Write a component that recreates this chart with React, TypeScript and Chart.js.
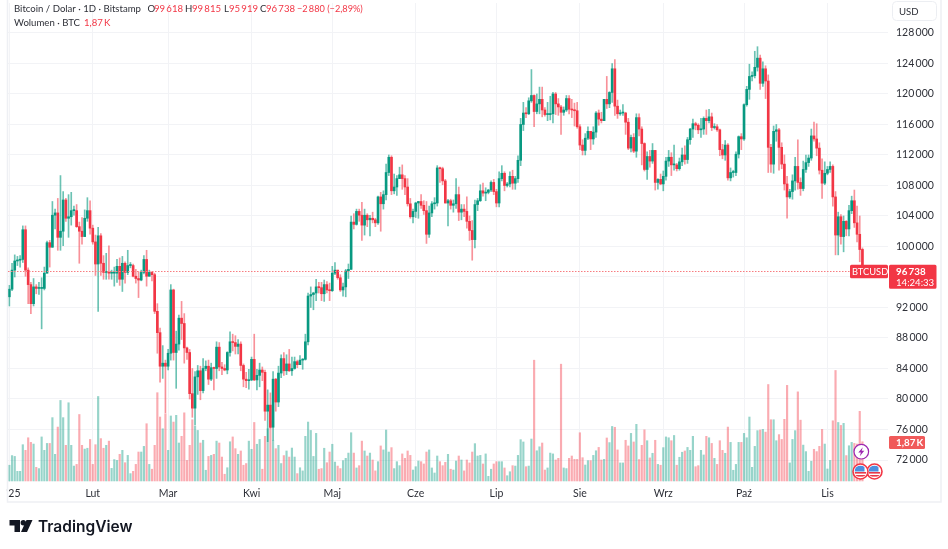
import { useEffect, useRef } from 'react';
import { Chart, registerables } from 'chart.js';

Chart.register(...registerables);

// one slot per day, 2025-01-01 onwards, last nine are empty space right of the last candle
const days = Array.from({ length: 327 }, (_, i) => String(i));
const monthStarts = [0, 31, 59, 90, 120, 151, 181, 212, 243, 273, 304];
const monthNames = ["   '25", 'Lut', 'Mar', 'Kwi', 'Maj', 'Cze', 'Lip', 'Sie', 'Wrz', 'Paź', 'Lis'];
const priceTicks = [128, 124, 120, 116, 112, 108, 104, 100, 96, 92, 88, 84, 80, 76, 72];

// prices in thousands of USD, one line per month
const opens = [
    93.4,94.4,96.9,98.1,98.2,98.3,102.2,96.9,95.0,92.5,94.7,94.5,94.5,94.5,96.5,100.5,99.9,104.1,104.4,101.2,102.0,106.1,103.7,103.9,104.7,104.7,102.6,102.0,101.3,103.7,104.7,
    102.4,100.6,97.7,101.4,97.8,96.6,96.6,96.5,96.5,96.5,97.4,95.7,97.8,96.6,97.5,97.5,96.1,95.8,95.6,96.6,98.3,96.1,96.6,96.3,91.5,88.7,84.3,84.7,
    84.3,86.0,94.3,86.1,87.2,90.6,89.9,86.7,86.1,80.7,78.8,82.9,83.7,81.1,84.0,84.3,82.6,84.1,84.0,86.8,84.2,84.0,83.8,86.1,87.5,87.4,86.9,87.2,84.4,82.6,82.4,
    82.5,85.2,82.5,83.1,83.8,83.5,78.4,79.2,76.3,82.6,79.6,83.4,85.3,83.7,84.6,83.7,84.0,84.9,84.5,85.1,85.2,87.5,93.5,93.7,93.9,94.7,94.6,93.8,95.0,94.3,
    94.2,96.5,96.9,95.9,94.3,94.7,96.8,97.0,103.2,102.9,104.6,104.1,102.8,104.1,103.5,103.7,103.5,103.1,106.5,105.6,106.8,109.7,111.7,107.3,107.8,108.9,109.4,108.9,107.8,105.6,103.9,
    104.6,105.7,105.9,105.4,104.7,101.6,104.4,105.6,105.7,110.3,110.2,108.6,105.7,106.0,105.4,105.6,106.8,104.5,104.9,104.6,103.3,102.1,100.9,105.5,106.0,107.3,107.0,107.1,107.4,108.4,
    107.2,105.7,108.9,109.6,108.0,108.2,109.2,108.3,108.9,111.3,116.0,117.5,117.4,119.1,119.8,117.7,118.7,119.3,117.9,117.3,117.3,117.4,120.0,118.7,118.3,117.6,117.9,119.4,118.0,117.9,117.8,
    115.7,113.3,112.6,114.2,115.1,114.1,115.0,117.5,116.7,116.5,119.3,118.7,120.2,123.3,118.4,117.4,117.5,117.5,116.3,112.9,114.3,112.5,116.9,115.4,113.5,110.1,111.8,111.2,112.6,108.4,108.8,
    108.2,109.2,111.2,111.7,110.7,110.7,110.2,111.1,112.0,111.4,114.0,115.4,116.1,115.9,115.3,115.4,116.8,116.5,117.0,115.6,115.7,115.3,112.7,112.0,113.3,109.0,109.7,109.7,112.1,114.4,
    114.1,118.6,120.6,122.3,122.4,123.5,124.7,121.4,123.3,121.7,113.0,110.8,115.1,115.3,113.0,110.8,108.2,106.5,107.2,108.6,110.5,108.4,107.6,110.1,111.0,111.6,114.5,114.1,112.9,110.0,108.3,
    109.6,110.1,110.5,106.5,101.5,103.9,101.3,103.3,102.3,104.7,106.0,103.1,101.6,99.618,
];
const closes = [
    94.4,96.9,98.1,98.2,98.3,102.2,96.9,95.0,92.5,94.7,94.5,94.5,94.5,96.5,100.5,99.9,104.1,104.4,101.2,102.0,106.1,103.7,103.9,104.7,104.7,102.6,102.0,101.3,103.7,104.7,102.4,
    100.6,97.7,101.4,97.8,96.6,96.6,96.5,96.5,96.5,97.4,95.7,97.8,96.6,97.5,97.5,96.1,95.8,95.6,96.6,98.3,96.1,96.6,96.3,91.5,88.7,84.3,84.7,84.3,
    86.0,94.3,86.1,87.2,90.6,89.9,86.7,86.1,80.7,78.8,82.9,83.7,81.1,84.0,84.3,82.6,84.1,84.0,86.8,84.2,84.0,83.8,86.1,87.5,87.4,86.9,87.2,84.4,82.6,82.4,82.5,
    85.2,82.5,83.1,83.8,83.5,78.4,79.2,76.3,82.6,79.6,83.4,85.3,83.7,84.6,83.7,84.0,84.9,84.5,85.1,85.2,87.5,93.5,93.7,93.9,94.7,94.6,93.8,95.0,94.3,94.2,
    96.5,96.9,95.9,94.3,94.7,96.8,97.0,103.2,102.9,104.6,104.1,102.8,104.1,103.5,103.7,103.5,103.1,106.5,105.6,106.8,109.7,111.7,107.3,107.8,108.9,109.4,108.9,107.8,105.6,103.9,104.6,
    105.7,105.9,105.4,104.7,101.6,104.4,105.6,105.7,110.3,110.2,108.6,105.7,106.0,105.4,105.6,106.8,104.5,104.9,104.6,103.3,102.1,100.9,105.5,106.0,107.3,107.0,107.1,107.4,108.4,107.2,
    105.7,108.9,109.6,108.0,108.2,109.2,108.3,108.9,111.3,116.0,117.5,117.4,119.1,119.8,117.7,118.7,119.3,117.9,117.3,117.3,117.4,120.0,118.7,118.3,117.6,117.9,119.4,118.0,117.9,117.8,115.7,
    113.3,112.6,114.2,115.1,114.1,115.0,117.5,116.7,116.5,119.3,118.7,120.2,123.3,118.4,117.4,117.5,117.5,116.3,112.9,114.3,112.5,116.9,115.4,113.5,110.1,111.8,111.2,112.6,108.4,108.8,108.2,
    109.2,111.2,111.7,110.7,110.7,110.2,111.1,112.0,111.4,114.0,115.4,116.1,115.9,115.3,115.4,116.8,116.5,117.0,115.6,115.7,115.3,112.7,112.0,113.3,109.0,109.7,109.7,112.1,114.4,114.1,
    118.6,120.6,122.3,122.4,123.5,124.7,121.4,123.3,121.7,113.0,110.8,115.1,115.3,113.0,110.8,108.2,106.5,107.2,108.6,110.5,108.4,107.6,110.1,111.0,111.6,114.5,114.1,112.9,110.0,108.3,109.6,
    110.1,110.5,106.5,101.5,103.9,101.3,103.3,102.3,104.7,106.0,103.1,101.6,99.6,96.738,
];
const highs = [
    94.9,97.8,98.9,98.7,98.8,102.7,102.7,97.2,95.3,95.8,95.0,95.3,95.9,97.3,100.7,100.8,105.9,104.9,106.3,109.3,107.2,106.3,106.8,107.1,105.3,105.5,103.2,103.8,104.8,106.4,106.0,
    102.8,101.5,102.5,101.7,98.8,99.1,100.1,96.9,97.3,98.3,98.5,98.7,98.0,99.5,97.9,97.7,97.0,96.7,96.9,98.8,99.5,96.9,96.7,96.5,92.5,89.3,87.0,85.1,
    86.5,95.0,94.4,88.9,91.0,92.8,91.2,86.8,86.5,84.0,83.6,84.4,84.3,85.3,85.0,85.1,84.7,84.2,87.5,87.4,84.8,84.5,86.2,88.8,88.5,88.3,87.8,87.5,84.6,83.5,83.9,
    85.5,88.5,83.9,84.7,84.2,83.8,81.2,80.8,83.6,82.7,84.3,85.8,86.1,85.8,86.5,85.5,85.5,85.1,85.7,85.3,88.5,93.9,94.7,94.0,95.7,95.3,95.3,95.6,95.4,95.2,
    97.4,97.9,96.9,96.3,95.2,97.0,97.7,104.0,104.3,104.9,104.9,105.8,104.9,104.3,104.1,104.5,103.7,106.6,107.1,107.3,110.8,112.0,111.9,109.5,109.3,110.4,110.7,109.3,108.9,106.3,104.9,
    105.8,105.9,106.8,106.0,105.9,105.3,105.9,106.4,110.6,110.4,110.4,108.8,106.2,106.2,106.1,108.9,107.8,105.5,105.5,106.5,104.0,103.4,106.1,106.3,108.1,108.3,107.7,107.5,108.6,108.8,
    107.5,109.8,110.6,109.8,108.4,109.8,110.0,109.2,111.9,116.8,118.9,118.2,119.5,123.2,119.9,120.0,120.9,120.9,118.2,118.9,119.7,120.2,120.2,119.4,118.5,118.3,119.8,119.8,119.3,118.8,118.9,
    116.0,114.0,114.8,115.7,115.1,115.7,117.7,117.9,117.6,119.3,122.3,120.3,124.0,124.5,119.2,117.9,118.6,117.6,116.8,114.6,114.8,117.4,117.4,115.7,113.6,112.4,112.6,113.5,112.6,108.9,109.5,
    109.9,111.7,112.6,112.3,113.3,110.9,111.6,112.9,113.2,114.3,115.5,116.7,116.3,116.1,116.8,117.0,117.9,118.0,117.5,116.1,116.0,115.4,113.4,113.9,113.5,110.3,110.0,112.4,114.5,114.8,
    118.7,121.0,123.9,122.9,125.6,126.2,125.1,124.2,123.7,122.5,113.4,115.8,116.0,115.5,113.6,112.0,109.2,107.5,109.4,111.7,114.0,109.0,111.2,112.0,112.0,115.4,116.3,116.1,113.6,111.5,111.1,
    110.5,111.1,110.7,107.2,104.5,104.2,104.0,103.4,105.4,106.6,107.4,105.3,104.0,99.815,
];
const lows = [
    92.2,94.2,96.0,97.5,97.3,97.9,96.1,92.5,91.2,92.2,93.8,93.7,89.2,94.3,96.5,97.3,99.9,102.3,99.5,99.5,100.1,103.3,101.2,102.8,104.1,102.5,97.8,100.3,101.3,103.3,101.6,
    100.3,96.2,91.5,96.2,95.7,95.7,95.7,95.7,94.8,95.3,94.9,94.1,95.2,96.3,97.2,96.0,95.2,93.3,95.5,96.4,94.8,96.1,95.5,91.2,86.0,82.2,82.7,78.2,
    83.8,85.1,85.1,81.4,86.4,87.8,84.7,85.2,80.0,77.6,76.6,80.6,79.9,80.8,83.7,81.9,82.4,81.2,82.7,83.7,83.2,83.7,83.3,85.6,86.3,85.9,85.9,83.7,81.6,81.5,81.3,
    82.4,82.4,81.2,81.6,82.4,77.2,74.4,76.2,74.6,78.4,79.0,82.8,83.1,83.2,83.6,83.1,83.9,84.1,84.5,83.9,85.1,87.1,92.0,91.7,92.9,93.9,92.9,92.8,93.9,92.9,
    94.1,96.3,95.7,94.1,93.5,93.4,95.8,97.0,102.3,102.8,103.3,100.8,101.5,102.6,101.4,103.1,102.6,102.9,102.0,104.9,106.1,109.3,106.8,106.9,106.7,108.9,107.5,106.8,105.3,103.7,103.1,
    103.8,103.7,105.0,104.2,100.4,101.2,103.9,104.9,105.3,108.4,108.1,105.7,102.7,104.9,104.5,105.0,103.4,103.5,103.9,102.4,100.8,98.2,99.8,104.7,105.9,106.6,106.0,106.9,107.2,106.8,
    105.2,105.2,108.6,107.3,107.8,107.8,107.5,107.5,108.4,110.6,115.2,116.9,117.3,118.9,115.7,117.4,117.4,117.0,117.1,116.5,116.6,116.2,117.3,117.2,114.7,117.2,117.7,117.4,116.9,115.8,115.5,
    112.7,112.0,112.0,114.0,112.7,113.4,114.3,115.9,116.2,116.5,118.1,118.2,118.9,117.2,116.8,117.2,117.2,114.7,112.7,112.4,112.3,111.7,114.5,110.7,109.9,108.8,110.4,110.9,107.4,107.5,108.1,
    107.3,108.7,110.5,109.3,110.0,109.9,110.0,110.6,110.8,110.9,113.4,114.3,115.3,114.8,114.3,114.7,114.7,116.2,115.2,115.4,115.1,111.9,111.5,111.3,108.7,108.6,109.1,109.3,111.6,112.7,
    113.9,118.4,119.3,121.7,122.1,123.0,120.6,121.0,119.4,109.7,109.7,109.6,113.8,110.0,110.2,107.4,103.7,106.3,106.2,107.4,107.5,106.7,107.3,109.7,110.5,111.3,113.8,111.9,109.5,106.3,108.1,
    109.4,109.7,105.3,98.9,98.9,100.3,99.3,101.4,101.4,104.3,102.5,100.6,98.0,95.919,
];
// volume in thousands of BTC
const volumes = [
    0.75,1.21,1.17,0.46,0.46,1.73,1.46,2.06,1.84,1.76,0.65,0.59,2.1,1.46,1.79,1.79,3.02,1.27,2.57,3.84,3.02,1.7,3.73,1.7,0.71,0.79,3.17,1.7,1.52,1.56,1.98,
    0.79,1.73,4.03,2.02,1.56,1.7,1.9,0.6,1.02,0.98,1.27,1.46,0.87,1.22,0.35,0.46,0.79,1.38,1.38,1.65,2.73,0.79,0.56,1.7,4.21,3.05,2.49,3.21,
    1.46,3.1,2.81,3.13,1.81,2.13,3.25,0.98,1.7,2.92,2.62,2.41,1.81,1.94,0.51,1.17,1.22,1.27,1.9,1.81,1.14,0.32,0.63,1.87,2.1,1.54,1.27,1.43,0.75,0.83,1.9,
    1.51,2.79,1.75,1.98,0.56,2.13,2.49,2.89,1.94,1.54,1.7,0.83,1.21,1.43,1.14,1.57,1.14,0.35,0.63,0.48,2.13,2.81,2.41,1.17,2.27,0.56,0.59,1.56,0.87,1.38,
    1.75,0.9,0.71,0.59,0.97,1.08,1.33,2.3,1.33,0.62,0.73,1.9,1.43,1.19,1.33,1.0,0.48,0.92,1.67,1.48,2.43,1.38,1.59,0.59,0.92,0.73,1.29,1.08,1.43,1.22,0.52,
    0.68,0.95,0.92,0.81,1.38,1.48,0.62,0.38,1.19,0.92,0.73,0.89,1.27,0.56,0.52,0.95,1.19,1.0,0.48,1.0,0.86,1.38,1.78,1.19,1.22,0.81,1.29,0.22,0.56,0.81,
    0.92,0.92,0.92,0.62,0.25,0.44,0.73,0.71,1.22,1.97,1.86,0.68,0.71,2.0,5.76,1.44,1.63,1.81,0.52,0.62,1.33,1.29,1.0,1.08,5.57,0.62,0.59,1.08,1.19,1.03,1.03,
    2.3,1.11,0.76,0.97,0.97,1.22,1.44,1.6,1.0,1.03,2.05,1.83,2.6,2.56,1.48,0.86,0.86,1.94,1.67,2.27,1.86,2.7,1.02,1.7,2.44,1.92,1.1,1.32,1.94,0.79,0.75,
    1.59,2.1,2.06,1.92,2.17,0.75,1.13,1.37,1.43,1.6,1.46,2.13,0.68,0.73,1.46,1.24,2.13,2.06,1.79,1.08,0.79,1.92,1.46,1.32,2.57,1.84,0.51,0.79,1.84,1.84,
    2.27,2.06,3.05,0.65,1.65,2.4,2.43,2.46,2.33,4.6,2.92,2.92,1.92,2.21,1.98,2.94,4.56,0.86,1.98,2.4,4.25,2.9,1.71,1.4,0.46,0.94,1.51,1.4,1.65,2.46,1.76,
    0.57,0.98,2.87,5.27,2.79,2.65,2.75,1.21,1.68,1.84,1.79,1.76,3.32,1.87,
];

const UP = '#089981';
const DOWN = '#f23645';
const TEXT = '#2e3038';
const FONT = 'Lato';
const isUp = opens.map((open, i) => closes[i] >= open);
const last = closes.length - 1;

function put(ctx: CanvasRenderingContext2D, text: string, x: number, y: number, color = TEXT, size = 9.6, weight = '400') {
    ctx.font = `${weight} ${size}px ${FONT}`;
    ctx.fillStyle = color;
    ctx.fillText(text, x, y);
}

function usFlag(ctx: CanvasRenderingContext2D, x: number, y: number) {
    ctx.save();
    ctx.beginPath();
    ctx.arc(x, y, 7.5, 0, Math.PI * 2);
    ctx.fillStyle = '#fff';
    ctx.fill();
    ctx.strokeStyle = DOWN;
    ctx.lineWidth = 1.6;
    ctx.stroke();
    ctx.beginPath();
    ctx.arc(x, y, 6, 0, Math.PI * 2);
    ctx.clip();
    ctx.fillStyle = '#e8394a';
    ctx.fillRect(x - 6, y + 0.5, 12, 1.6);
    ctx.fillRect(x - 6, y + 3.5, 12, 1.6);
    ctx.fillStyle = '#4b8fe0';
    ctx.fillRect(x - 6, y - 6, 10, 6);
    ctx.restore();
}

// everything TradingView paints around the plot: header, badges, event icons, logo
const overlay = {
    id: 'overlay',
    afterDraw(chart: Chart) {
        const { ctx } = chart;
        const price = chart.scales.y.getPixelForValue(closes[last]);
        ctx.save();

        // frame
        ctx.strokeStyle = '#eef0f4';
        ctx.lineWidth = 1.5;
        ctx.beginPath();
        ctx.moveTo(7.5, 0);
        ctx.lineTo(7.5, 502);
        ctx.lineTo(941, 502);
        ctx.lineTo(941, 0);
        ctx.stroke();

        // last price line
        ctx.strokeStyle = '#f77c80';
        ctx.lineWidth = 1;
        ctx.setLineDash([1.5, 1.5]);
        ctx.beginPath();
        ctx.moveTo(8, Math.round(price) + 0.5);
        ctx.lineTo(850, Math.round(price) + 0.5);
        ctx.stroke();
        ctx.setLineDash([]);

        // badges
        ctx.fillStyle = DOWN;
        ctx.beginPath();
        ctx.roundRect(850, price - 6.5, 38, 13.5, 1.5);
        ctx.roundRect(889, price - 6.5, 47.5, 24, 1.5);
        ctx.fill();
        ctx.fillStyle = '#f05a5a';
        ctx.beginPath();
        ctx.roundRect(889, 436, 36, 13, 1.5);
        ctx.fill();

        ctx.textBaseline = 'middle';
        ctx.textAlign = 'left';
        put(ctx, 'BTCUSD', 852, price + 0.5, '#fff', 9.3);
        put(ctx, '96\u2009738', 896, price + 0.5, '#fff', 9.8, '700');
        put(ctx, '14:24:33', 896, price + 12, '#fff', 9.6);
        put(ctx, '1,87\u2009K', 896, 443, '#fff', 9.8, '700');

        // currency button
        ctx.strokeStyle = '#eceef2';
        ctx.lineWidth = 1;
        ctx.beginPath();
        ctx.roundRect(892.5, 1.5, 44, 19, 4);
        ctx.stroke();
        put(ctx, 'USD', 899, 11.5);

        // header
        put(ctx, 'Bitcoin / Dolar · 1D · Bitstamp', 14, 9);
        put(ctx, 'O', 147.5, 9);
        put(ctx, '99\u2009618', 154, 9, DOWN);
        put(ctx, 'H', 185, 9);
        put(ctx, '99\u2009815', 192, 9, DOWN);
        put(ctx, 'L', 224, 9);
        put(ctx, '95\u2009919', 229, 9, DOWN);
        put(ctx, 'C', 260, 9);
        put(ctx, '96\u2009738', 266, 9, DOWN);
        put(ctx, '−2\u2009880 (−2,89%)', 297, 9, DOWN, 9.2);
        put(ctx, 'Wolumen · BTC', 14, 22.5);
        put(ctx, '1,87\u2009K', 84, 22.5, DOWN);

        // event icons
        ctx.beginPath();
        ctx.arc(861.3, 451.7, 7.3, 0, Math.PI * 2);
        ctx.fillStyle = '#fff';
        ctx.fill();
        ctx.strokeStyle = '#9c27b0';
        ctx.lineWidth = 1.2;
        ctx.stroke();
        ctx.fillStyle = '#9c27b0';
        ctx.beginPath();
        ctx.moveTo(862.8, 447.2);
        ctx.lineTo(858.3, 452.5);
        ctx.lineTo(860.9, 452.5);
        ctx.lineTo(859.8, 456.2);
        ctx.lineTo(864.3, 450.7);
        ctx.lineTo(861.7, 450.7);
        ctx.closePath();
        ctx.fill();
        usFlag(ctx, 874.5, 471.5);
        usFlag(ctx, 860.5, 471.5);

        // logo
        ctx.fillStyle = '#131722';
        ctx.beginPath();
        ctx.moveTo(9.5, 520);
        ctx.lineTo(20, 520);
        ctx.lineTo(20, 532);
        ctx.lineTo(14.5, 532);
        ctx.lineTo(14.5, 525.5);
        ctx.lineTo(9.5, 525.5);
        ctx.closePath();
        ctx.moveTo(26.5, 520);
        ctx.lineTo(32.5, 520);
        ctx.lineTo(27, 532);
        ctx.lineTo(21, 532);
        ctx.closePath();
        ctx.fill();
        ctx.beginPath();
        ctx.arc(23.3, 522.8, 2.7, 0, Math.PI * 2);
        ctx.fill();
        ctx.font = '600 15.5px Inter';
        ctx.fillStyle = '#131722';
        ctx.fillText('TradingView', 38, 527);

        ctx.restore();
    },
};

export default function App() {
    const canvasRef = useRef<HTMLCanvasElement>(null);

    useEffect(() => {
        if (!canvasRef.current) return;
        const chart = new Chart(canvasRef.current, {
            type: 'bar',
            data: {
                labels: days,
                datasets: [
                    {
                        yAxisID: 'volume',
                        data: volumes,
                        backgroundColor: isUp.map(up => (up ? 'rgba(8,153,129,0.42)' : 'rgba(242,54,69,0.42)')),
                        barThickness: 1.5,
                        grouped: false,
                        order: 3,
                    },
                    {
                        yAxisID: 'y',
                        data: lows.map((low, i) => [low, highs[i]]),
                        backgroundColor: isUp.map(up => (up ? 'rgba(8,153,129,0.6)' : 'rgba(242,54,69,0.55)')),
                        barThickness: 1,
                        grouped: false,
                        order: 2,
                    },
                    {
                        yAxisID: 'y',
                        data: opens.map((open, i) => [open, closes[i]]),
                        backgroundColor: isUp.map(up => (up ? UP : DOWN)),
                        barThickness: 2,
                        minBarLength: 1,
                        grouped: false,
                        order: 1,
                    },
                ],
            },
            options: {
                responsive: false,
                animation: false,
                layout: { padding: { left: 8, top: 3, right: 0, bottom: 0 } },
                plugins: {
                    legend: { display: false },
                    tooltip: { enabled: false },
                },
                scales: {
                    x: {
                        afterFit: scale => {
                            scale.height = 67;
                            scale.paddingLeft = 0;
                            scale.paddingRight = 0;
                        },
                        afterBuildTicks: scale => {
                            scale.ticks = monthStarts.map(value => ({ value }));
                        },
                        grid: { color: '#f2f3f6', offset: false, drawTicks: false },
                        border: { display: false },
                        ticks: {
                            autoSkip: false,
                            maxRotation: 0,
                            padding: 5,
                            color: TEXT,
                            font: { family: FONT, size: 10.5 },
                            callback: (_value, index) => monthNames[index],
                        },
                    },
                    y: {
                        position: 'right',
                        min: 69.115,
                        max: 131.93,
                        afterFit: scale => {
                            scale.width = 60;
                            scale.paddingTop = 0;
                            scale.paddingBottom = 0;
                        },
                        afterBuildTicks: scale => {
                            scale.ticks = priceTicks.map(value => ({ value }));
                        },
                        grid: { color: '#f2f3f6', drawTicks: false },
                        border: { display: false },
                        ticks: {
                            padding: 8,
                            color: TEXT,
                            font: { family: FONT, size: 10.5 },
                            // 96 000 sits behind the price badge
                            callback: value => (value === 96 ? '' : `${value}\u2009000`),
                        },
                    },
                    volume: {
                        display: false,
                        min: -0.05,
                        max: 22.8,
                    },
                },
            },
            plugins: [overlay],
        });
        return () => {
            chart.destroy();
        };
    }, []);

    return (
        <div style={{ position: 'fixed', left: 0, top: 0, width: 948, height: 549, background: '#fff' }}>
            <canvas ref={canvasRef} width={948} height={549} style={{ display: 'block' }} />
        </div>
    );
}
